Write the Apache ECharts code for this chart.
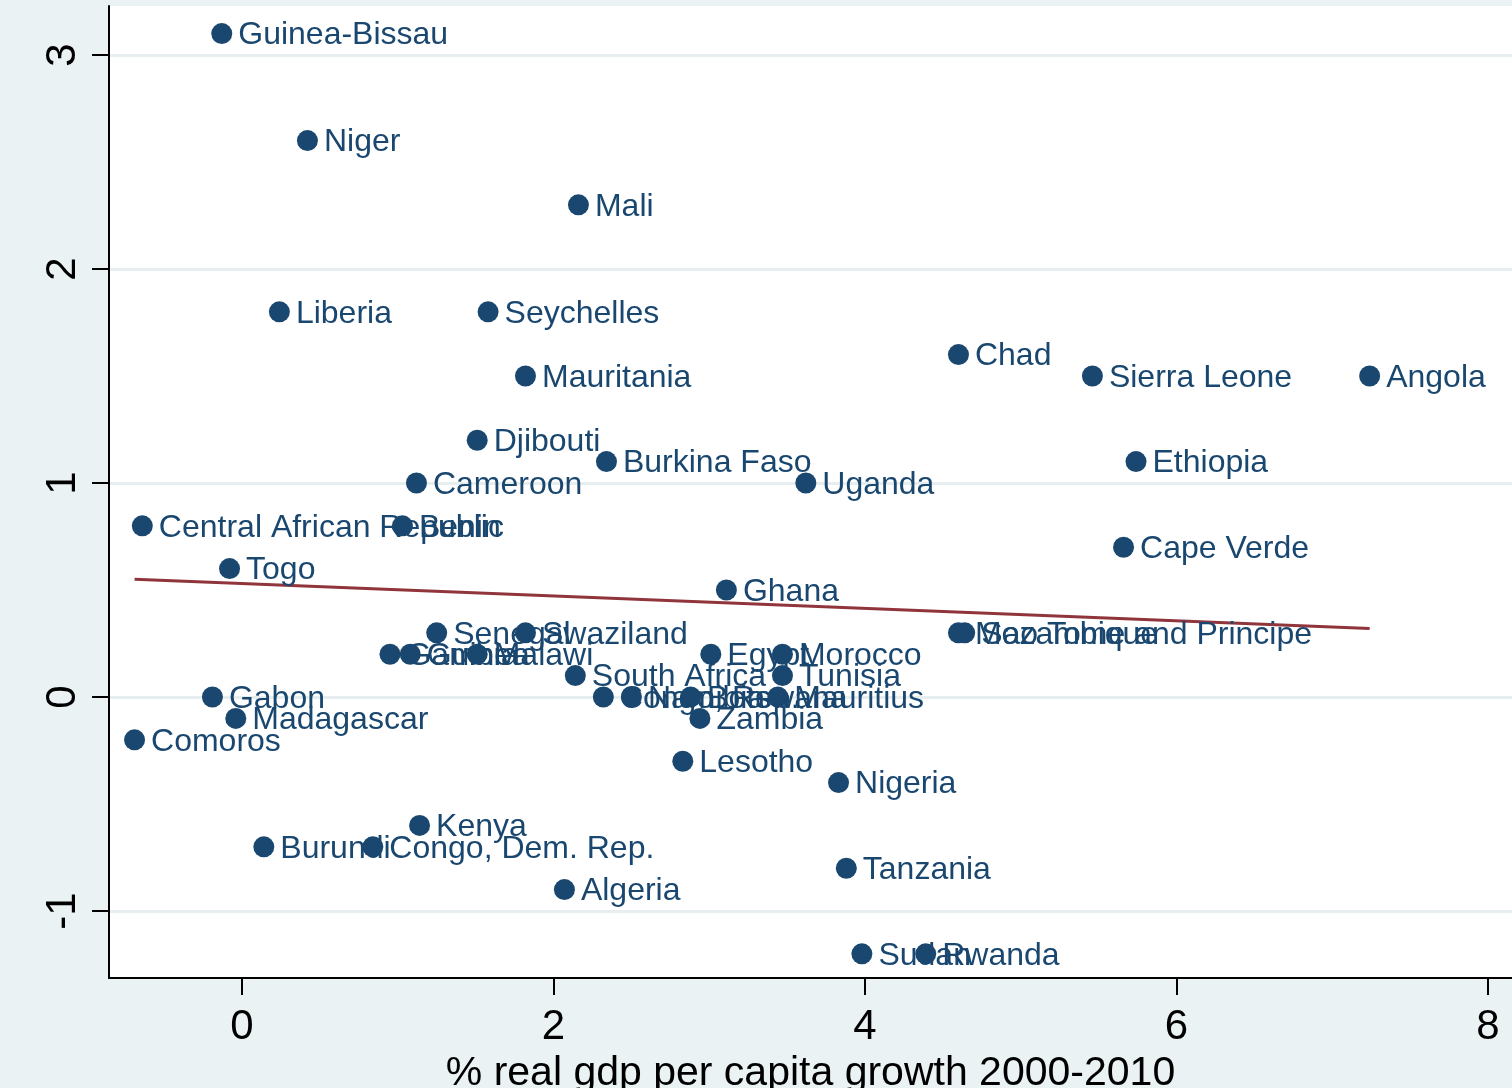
<!DOCTYPE html>
<html>
<head>
<meta charset="utf-8">
<script src="https://cdn.jsdelivr.net/npm/echarts@6/dist/echarts.min.js"></script>
<style>
  html, body { margin: 0; padding: 0; background: #eaf2f3; }
  #chart { width: 1512px; height: 1088px; }
</style>
</head>
<body>
<div id="chart"></div>
<script>
// country labels, gdp growth (x) and the y value
let countries = ['Guinea-Bissau', 'Niger', 'Mali', 'Liberia', 'Seychelles', 'Mauritania',
  'Chad', 'Sierra Leone', 'Angola', 'Djibouti', 'Burkina Faso', 'Ethiopia', 'Cameroon',
  'Uganda', 'Central African Republic', 'Benin', 'Cape Verde', 'Togo', 'Ghana', 'Senegal',
  'Swaziland', 'Mozambique', 'Sao Tome and Principe', 'Gambia', 'Guinea', 'Malawi', 'Egypt',
  'Morocco', 'South Africa', 'Tunisia', 'Gabon', 'Congo, Rep.', 'Namibia', 'Botswana',
  'Mauritius', 'Madagascar', 'Zambia', 'Comoros', 'Lesotho', 'Nigeria', 'Kenya', 'Burundi',
  'Congo, Dem. Rep.', 'Tanzania', 'Algeria', 'Sudan', 'Rwanda'];
let growth = [-0.13, 0.42, 2.16, 0.24, 1.58, 1.82,
  4.60, 5.46, 7.24, 1.51, 2.34, 5.74, 1.12,
  3.62, -0.64, 1.03, 5.66, -0.08, 3.11, 1.25,
  1.82, 4.60, 4.64, 0.95, 1.08, 1.51, 3.01,
  3.47, 2.14, 3.47, -0.19, 2.32, 2.50, 2.88,
  3.44, -0.04, 2.94, -0.69, 2.83, 3.83, 1.14, 0.14,
  0.84, 3.88, 2.07, 3.98, 4.39];
let yval = [3.1, 2.6, 2.3, 1.8, 1.8, 1.5,
  1.6, 1.5, 1.5, 1.2, 1.1, 1.1, 1.0,
  1.0, 0.8, 0.8, 0.7, 0.6, 0.5, 0.3,
  0.3, 0.3, 0.3, 0.2, 0.2, 0.2, 0.2,
  0.2, 0.1, 0.1, 0.0, 0.0, 0.0, 0.0,
  0.0, -0.1, -0.1, -0.2, -0.3, -0.4, -0.6, -0.7,
  -0.7, -0.8, -0.9, -1.2, -1.2];

// fitted line ends
let fitX = [-0.69, 7.24];
let fitY = [0.55, 0.32];

let xTicks = [0, 2, 4, 6, 8];
let yTicks = [-1, 0, 1, 2, 3];

let navy = '#1a476f';
let font = 'Liberation Sans, Arial, sans-serif';

let points = [];
for (let i = 0; i < countries.length; i++) {
  points.push({ value: [growth[i], yval[i]], name: countries[i] });
}
let fit = [];
for (let i = 0; i < fitX.length; i++) {
  fit.push([fitX[i], fitY[i]]);
}

let myChart = echarts.init(document.getElementById('chart'));

let option = {
  backgroundColor: '#eaf2f3',
  animation: false,
  grid: {
    left: 109, top: 6, right: 0, bottom: 110,
    outerBoundsMode: 'none',
    containLabel: false,
    show: true, backgroundColor: '#ffffff', borderWidth: 0
  },
  xAxis: {
    type: 'value',
    min: -0.854, max: 8.154,
    name: '% real gdp per capita growth 2000-2010',
    nameLocation: 'middle',
    nameGap: 68,
    nameTextStyle: { fontSize: 41, color: '#000', fontFamily: font },
    axisLine: { onZero: false, lineStyle: { color: '#000', width: 2 } },
    axisTick: { length: 17, lineStyle: { color: '#000', width: 2 }, customValues: xTicks },
    axisLabel: { fontSize: 42, color: '#000', fontFamily: font, margin: 28, customValues: xTicks },
    splitLine: { show: false }
  },
  yAxis: {
    type: 'value',
    min: -1.313, max: 3.229,
    axisLine: { show: true, onZero: false, lineStyle: { color: '#000', width: 2 } },
    axisTick: { show: true, length: 17, lineStyle: { color: '#000', width: 2 }, customValues: yTicks },
    axisLabel: { fontSize: 42, color: '#000', fontFamily: font, rotate: 90, margin: 25, customValues: yTicks },
    splitLine: { show: true, lineStyle: { color: '#e6eef0', width: 3 } }
  },
  series: [
    {
      type: 'scatter',
      data: points,
      symbol: 'circle',
      symbolSize: 21,
      itemStyle: { color: navy, opacity: 1 },
      label: {
        show: true,
        position: 'right',
        distance: 6,
        offset: [0, 2],
        formatter: '{b}',
        fontSize: 32,
        fontFamily: font,
        color: navy
      },
      z: 3
    },
    {
      type: 'line',
      data: fit,
      symbol: 'none',
      lineStyle: { color: '#90353b', width: 3 },
      z: 2
    }
  ]
};

myChart.setOption(option);
</script>
</body>
</html>
